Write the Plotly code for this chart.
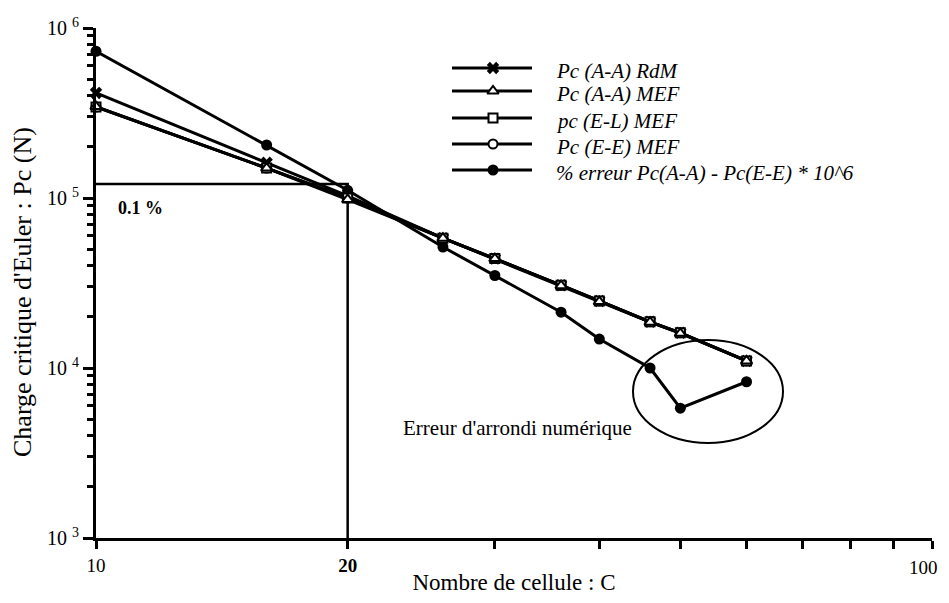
import plotly.graph_objects as go

# nombre de cellules
cells = [10, 16, 20, 26, 30, 36, 40, 46, 50, 60]

# charge critique (N)
pc_aa_rdm = [4.15e5, 1.61e5, 1.03e5, 5.8e4, 4.4e4, 3.07e4, 2.48e4, 1.87e4, 1.61e4, 1.1e4]
pc_aa_mef = [3.45e5, 1.50e5, 0.98e5, 5.8e4, 4.4e4, 3.05e4, 2.46e4, 1.86e4, 1.60e4, 1.1e4]
pc_el_mef = [3.43e5, 1.50e5, 1.00e5, 5.8e4, 4.4e4, 3.07e4, 2.48e4, 1.87e4, 1.61e4, 1.1e4]
pc_ee_mef = [3.43e5, 1.50e5, 1.00e5, 5.8e4, 4.4e4, 3.07e4, 2.48e4, 1.87e4, 1.61e4, 1.1e4]
erreur = [7.3e5, 2.05e5, 1.11e5, 5.15e4, 3.5e4, 2.13e4, 1.48e4, 1.0e4, 5.8e3, 8.3e3]

names = [
    "Pc (A-A) RdM",
    "Pc (A-A) MEF",
    "pc (E-L) MEF",
    "Pc (E-E) MEF",
    "% erreur Pc(A-A) - Pc(E-E) * 10^6",
]

# seuil 0.1 %
seuil_x = [10, 20, 20]
seuil_y = [1.21e5, 1.21e5, 1e3]

x_ticks = [10, 20, 30, 40, 50, 60, 70, 80, 90, 100]
x_labels = ["10", "<b>20</b>", "", "", "", "", "", "", "", ""]
y_ticks = [1e3, 1e4, 1e5, 1e6]
y_labels = ["10 <sup>3</sup>", "10 <sup>4</sup>", "10 <sup>5</sup>", "10 <sup>6</sup>"]
y_minor = [m * 10 ** e for e in range(3, 6) for m in range(2, 10)]

# the page puts the figure 8px in from the corner (body margin on each side)
OFF = 8
W, H = 949 - 2 * OFF, 603 - 2 * OFF
L, R, T, B = 96, 932, 28, 538   # plot area in window pixels

FONT = "Liberation Serif"

styles = [
    dict(symbol="x", size=11, color="black", line=dict(width=0)),
    dict(symbol="triangle-up", size=10, color="white", line=dict(color="black", width=2)),
    dict(symbol="square", size=9, color="white", line=dict(color="black", width=2)),
    dict(symbol="circle", size=9, color="white", line=dict(color="black", width=2)),
    dict(symbol="circle", size=11, color="black", line=dict(width=0)),
]
series = [pc_aa_rdm, pc_aa_mef, pc_el_mef, pc_ee_mef, erreur]

fig = go.Figure()

fig.add_trace(go.Scatter(
    x=seuil_x, y=seuil_y, mode="lines",
    line=dict(color="black", width=2.5), showlegend=False, hoverinfo="skip",
))

# draw the error series first, then the near-identical curves on top
order = [4, 0, 3, 2, 1]
for i in order:
    fig.add_trace(go.Scatter(
        x=cells, y=series[i], mode="lines+markers", name=names[i],
        line=dict(color="black", width=3),
        marker=styles[i], showlegend=False, cliponaxis=False,
    ))


def px_x(p):
    return (p - L) / (R - L)


def px_y(p):
    return (B - p) / (B - T)


# hand-made legend (long line samples as in the original)
leg_y = [68, 91, 118, 144, 170]
for i, py in enumerate(leg_y):
    yy = px_y(py)
    fig.add_trace(go.Scatter(
        x=[px_x(452), px_x(532)], y=[yy, yy], mode="lines",
        line=dict(color="black", width=3), xaxis="x2", yaxis="y2",
        showlegend=False, hoverinfo="skip",
    ))
    fig.add_trace(go.Scatter(
        x=[px_x(493)], y=[yy], mode="markers", marker=styles[i],
        xaxis="x2", yaxis="y2", showlegend=False, hoverinfo="skip",
    ))
    fig.add_annotation(
        x=px_x(554), y=px_y(py + 3), xref="paper", yref="paper", text=names[i],
        showarrow=False, xanchor="left", yanchor="middle",
        font=dict(family=FONT, size=21, color="black", style="italic"),
    )

fig.add_annotation(
    x=px_x(140), y=px_y(208), xref="paper", yref="paper", text="<b>0.1 %</b>",
    showarrow=False, xanchor="center", yanchor="middle",
    font=dict(family=FONT, size=18, color="black"),
)
fig.add_annotation(
    x=px_x(517), y=px_y(428), xref="paper", yref="paper",
    text="Erreur d'arrondi numérique", showarrow=False,
    xanchor="center", yanchor="middle",
    font=dict(family=FONT, size=21, color="black"),
)
# last x label sits against the right edge of the page
fig.add_annotation(
    x=px_x(940), y=px_y(567), xref="paper", yref="paper", text="100",
    showarrow=False, xanchor="right", yanchor="middle",
    font=dict(family=FONT, size=19, color="black"),
)
# y title, placed by hand further left than plotly would put it
fig.add_annotation(
    x=px_x(23), y=px_y(292), xref="paper", yref="paper",
    text="Charge critique d'Euler : Pc (N)", textangle=-90, showarrow=False,
    xanchor="center", yanchor="middle",
    font=dict(family=FONT, size=26, color="black"),
)

fig.add_shape(
    type="circle", xref="paper", yref="paper",
    x0=px_x(633), x1=px_x(783), y0=px_y(443), y1=px_y(340),
    line=dict(color="black", width=2),
)

fig.update_layout(
    width=W, height=H,
    margin=dict(l=L - OFF, r=W - (R - OFF), t=T - OFF, b=H - (B - OFF), autoexpand=False),
    paper_bgcolor="white", plot_bgcolor="white",
    font=dict(family=FONT, size=16, color="black"),
    xaxis=dict(
        type="log", range=[1, 2], showgrid=False, zeroline=False,
        tickvals=x_ticks, ticktext=x_labels,
        ticks="outside", ticklen=8, tickwidth=3, tickcolor="black",
        showline=True, linecolor="black", linewidth=3,
        tickfont=dict(family=FONT, size=19),
        title=dict(text="Nombre de cellule : C", font=dict(family=FONT, size=23), standoff=3),
    ),
    yaxis=dict(
        type="log", range=[3, 6], showgrid=False, zeroline=False,
        tickvals=y_ticks, ticktext=y_labels,
        ticks="outside", ticklen=10, tickwidth=3, tickcolor="black",
        showline=True, linecolor="black", linewidth=3,
        tickfont=dict(family=FONT, size=20),
        minor=dict(tickvals=y_minor, ticks="outside", ticklen=6, tickwidth=3, tickcolor="black"),
    ),
    xaxis2=dict(range=[0, 1], overlaying="x", anchor="y2", visible=False),
    yaxis2=dict(range=[0, 1], overlaying="y", anchor="x2", visible=False),
)

fig.write_html("out.html")
